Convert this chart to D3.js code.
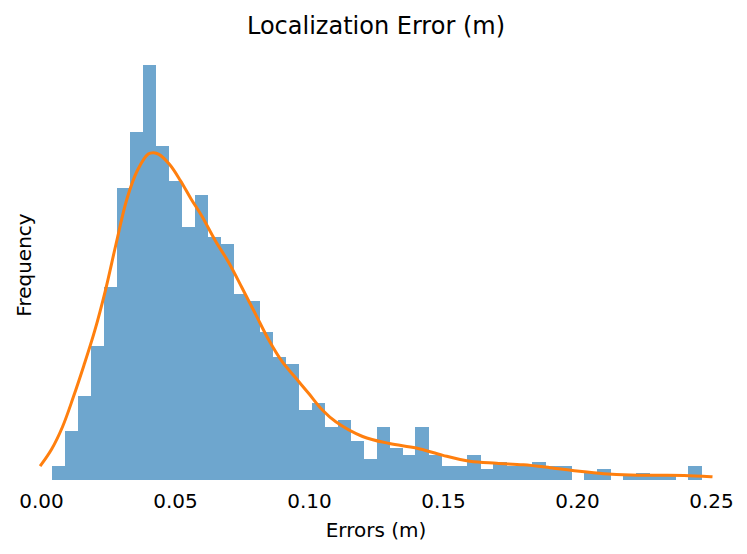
<!DOCTYPE html>
<html>
<head>
<meta charset="utf-8">
<script src="https://cdn.jsdelivr.net/npm/d3@7"></script>
<style>
  html, body { margin: 0; padding: 0; background: #fff; }
  text { font-family: "DejaVu Sans", sans-serif; fill: #000; }
</style>
</head>
<body>
<svg id="chart" width="747" height="554"></svg>
<script>
// ---- data ----
const histMin = 0.0041;
const histMax = 0.2463;
const counts = [4, 14, 24, 38, 55, 83, 99, 118, 95, 85,
                72, 81, 69, 67, 53, 51, 42, 35, 33, 20,
                22, 15, 17, 11, 6, 15, 9, 7, 15, 7,
                4, 4, 7, 3, 5, 4, 4, 5, 4, 4,
                0, 2, 3, 0, 1, 2, 1, 1, 0, 4];
const kdeX = [0, 0.004, 0.008, 0.012, 0.016, 0.020, 0.024, 0.028, 0.032, 0.036,
              0.040, 0.042, 0.044, 0.048, 0.052, 0.056, 0.060, 0.065, 0.070, 0.075,
              0.080, 0.085, 0.090, 0.095, 0.100, 0.105, 0.110, 0.120, 0.130, 0.140,
              0.150, 0.160, 0.170, 0.180, 0.190, 0.200, 0.210, 0.220, 0.230, 0.240, 0.250];
const kdeY = [4.27, 8.81, 15.07, 23.43, 32.56, 42.31, 53.8, 67.1, 79.76, 88.06,
              92.69, 93.06, 92.6, 89.7, 85.16, 79.9, 75.06, 68.1, 61.9, 54.65,
              47.23, 39.8, 33.64, 29.06, 24.51, 19.9, 16.55, 12.37, 10.38, 9.1,
              7.0, 5.32, 4.75, 4.32, 3.5, 2.56, 1.79, 1.42, 1.36, 1.31, 0.94];
const xTicks = [0.00, 0.05, 0.10, 0.15, 0.20, 0.25];
const titleText = "Localization Error (m)";
const xLabel = "Errors (m)";
const yLabel = "Frequency";

// ---- drawing ----
const svg = d3.select("#chart");
const x = d3.scaleLinear().domain([0, 0.25]).range([41, 711]);
const y = d3.scaleLinear().domain([0, 118]).range([480, 65]);

const binW = (histMax - histMin) / counts.length;
const bins = counts.map((c, i) => ({x0: histMin + i * binW, x1: histMin + (i + 1) * binW, c}));

svg.append("g").attr("shape-rendering", "crispEdges").selectAll("rect").data(bins).join("rect")
  .attr("x", d => x(d.x0))
  .attr("width", d => x(d.x1) - x(d.x0) + 0.5)
  .attr("y", d => y(d.c))
  .attr("height", d => y(0) - y(d.c))
  .attr("fill", "#6ea6ce");

const line = d3.line().x(d => x(d[0])).y(d => y(d[1])).curve(d3.curveCatmullRom.alpha(0.5));
svg.append("path")
  .datum(kdeX.map((v, i) => [v, kdeY[i]]))
  .attr("d", line)
  .attr("fill", "none")
  .attr("stroke", "#ff7f0e")
  .attr("stroke-width", 3)
  .attr("stroke-linejoin", "round")
  .attr("stroke-linecap", "square");

// x axis (no domain line, no tick marks)
const xAxis = d3.axisBottom(x).tickValues(xTicks).tickFormat(d3.format(".2f"))
  .tickSize(0).tickPadding(14);
const gx = svg.append("g").attr("transform", "translate(0,480)").call(xAxis);
gx.select(".domain").remove();
gx.selectAll("text").style("font-size", "20px").style("font-family", "'DejaVu Sans', sans-serif").attr("fill", "#000");

svg.append("text").attr("x", x(0.125)).attr("y", 537)
  .attr("text-anchor", "middle").style("font-size", "20px").text(xLabel);

svg.append("text").attr("transform", "translate(31,265) rotate(-90)")
  .attr("text-anchor", "middle").style("font-size", "20px").text(yLabel);

svg.append("text").attr("x", x(0.125)).attr("y", 34)
  .attr("text-anchor", "middle").style("font-size", "24px").text(titleText);
</script>
</body>
</html>
